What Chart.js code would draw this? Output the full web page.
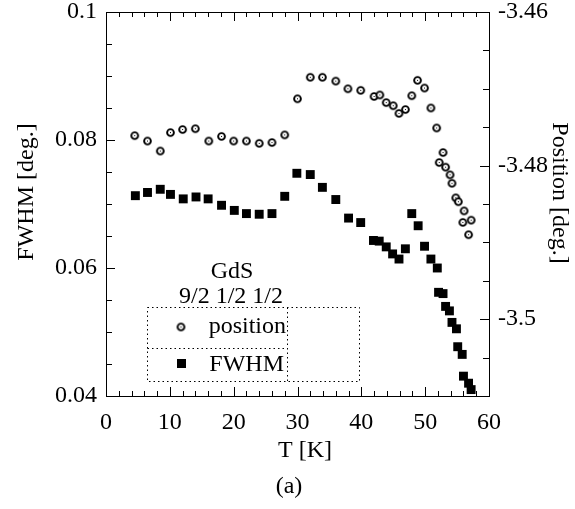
<!DOCTYPE html>
<html>
<head>
<meta charset="utf-8">
<script src="https://cdn.jsdelivr.net/npm/chart.js@4.4.1/dist/chart.umd.min.js"></script>
<style>
html, body { margin: 0; padding: 0; background: #fff; }
canvas { display: block; }
</style>
</head>
<body>
<canvas id="chart" width="575" height="509"></canvas>
<script>
// Peak position (right axis) vs temperature
const posT = [4.5, 6.5, 8.5, 10.1, 12.0, 14.0, 16.1, 18.1, 20.0, 22.0, 24.0, 26.0, 28.0,
  30.0, 32.0, 33.9, 36.0, 37.9, 39.9, 42.0, 42.9, 43.9, 45.0, 45.9, 46.9, 47.9, 48.8,
  49.9, 50.9, 51.8, 52.8, 52.2, 53.2, 53.9, 54.2, 54.8, 55.2, 56.1, 55.9, 57.2, 56.8];
const posVal = [-3.4761, -3.4768, -3.4781, -3.4757, -3.4753, -3.4752, -3.4768, -3.4762,
  -3.4768, -3.4768, -3.4771, -3.4770, -3.4760, -3.4713, -3.4685, -3.4685, -3.4690,
  -3.4700, -3.4702, -3.4710, -3.4708, -3.4718, -3.4722, -3.4732, -3.4727, -3.4709,
  -3.4689, -3.4699, -3.4725, -3.4751, -3.4783, -3.4796, -3.4802, -3.4812, -3.4823,
  -3.4842, -3.4847, -3.4859, -3.4874, -3.4871, -3.4890];

// Peak width (left axis) vs temperature
const fwhmT = [4.6, 6.5, 8.5, 10.1, 12.1, 14.1, 16.0, 18.1, 20.1, 22.0, 24.0, 26.0, 28.0,
  29.9, 32.0, 33.9, 36.0, 38.0, 39.9, 41.9, 42.8, 43.9, 44.9, 45.9, 46.9, 47.9, 48.9,
  49.9, 50.9, 51.9, 52.1, 52.8, 53.2, 53.8, 54.2, 54.9, 55.1, 55.8, 56.0, 56.8, 57.2];
const fwhmVal = [0.0713, 0.0718, 0.0723, 0.0715, 0.0708, 0.0711, 0.0708, 0.0698, 0.0690,
  0.0685, 0.0684, 0.0685, 0.0712, 0.0748, 0.0746, 0.0726, 0.0707, 0.0678, 0.0671,
  0.0643, 0.0642, 0.0633, 0.0622, 0.0614, 0.0630, 0.0685, 0.0666, 0.0634, 0.0614,
  0.0600, 0.0562, 0.0560, 0.0540, 0.0533, 0.0515, 0.0505, 0.0477, 0.0465, 0.0431,
  0.0420, 0.0410];

const tempTicks = [0, 10, 20, 30, 40, 50, 60];
const fwhmTicks = [0.04, 0.06, 0.08, 0.1];
const posTicks = [-3.5, -3.48, -3.46];

const FONT = '"Liberation Serif", "Times New Roman", serif';
Chart.defaults.font.family = FONT;
Chart.defaults.color = '#000';

// open circle with a dot in the middle
function ringMarker() {
  const c = document.createElement('canvas');
  c.width = 11; c.height = 11;
  const g = c.getContext('2d');
  g.beginPath();
  g.arc(5.5, 5.5, 3.4, 0, Math.PI * 2);
  g.fillStyle = '#fff';
  g.fill();
  g.lineWidth = 1.9;
  g.strokeStyle = '#000';
  g.stroke();
  g.fillStyle = '#000';
  g.fillRect(5, 5, 1, 1);
  return c;
}

function fixTicks(list) {
  return function(scale) {
    scale.ticks = list.map(v => ({ value: v }));
  };
}

function draw() {
  const ring = ringMarker();

  // box frame, inward ticks, titles and the key
  const decorations = {
    id: 'decorations',
    afterDraw(chart) {
      const ctx = chart.ctx;
      const { x, y, y2 } = chart.scales;
      const a = chart.chartArea;
      ctx.save();
      ctx.strokeStyle = '#000';
      ctx.lineWidth = 1;
      ctx.strokeRect(a.left + 0.5, a.top + 0.5, a.right - a.left, a.bottom - a.top);

      ctx.beginPath();
      for (let i = 0; i <= 30; i++) {
        const px = Math.round(x.getPixelForValue(i * 2)) + 0.5;
        const len = (i % 5 === 0) ? 9 : 5;
        ctx.moveTo(px, a.bottom); ctx.lineTo(px, a.bottom - len);
        ctx.moveTo(px, a.top); ctx.lineTo(px, a.top + len);
      }
      for (let i = 0; i <= 12; i++) {
        const py = Math.round(y.getPixelForValue(0.04 + i * 0.005)) + 0.5;
        const len = (i % 4 === 0) ? 9 : 6;
        ctx.moveTo(a.left, py); ctx.lineTo(a.left + len, py);
      }
      for (let i = 0; i <= 10; i++) {
        const py = Math.round(y2.getPixelForValue(-3.51 + i * 0.005)) + 0.5;
        const len = ((i - 2) % 4 === 0) ? 9 : 6;
        ctx.moveTo(a.right, py); ctx.lineTo(a.right - len, py);
      }
      ctx.stroke();

      ctx.fillStyle = '#000';
      ctx.font = '24px ' + FONT;
      ctx.textAlign = 'center';
      ctx.textBaseline = 'middle';
      ctx.fillText('T [K]', 305, 451);
      ctx.fillText('(a)', 289, 487);
      ctx.fillText('GdS', 232, 272);
      ctx.fillText('9/2 1/2 1/2', 231, 297);

      ctx.save();
      ctx.translate(27, 192);
      ctx.rotate(-Math.PI / 2);
      ctx.fillText('FWHM [deg.]', 0, 0);
      ctx.restore();
      ctx.save();
      ctx.translate(559, 193);
      ctx.rotate(Math.PI / 2);
      ctx.fillText('Position [deg.]', 0, 0);
      ctx.restore();

      // key
      ctx.setLineDash([1.5, 3]);
      ctx.beginPath();
      ctx.rect(147.5, 307.5, 212, 74);
      ctx.moveTo(287.5, 307.5); ctx.lineTo(287.5, 381.5);
      ctx.moveTo(147.5, 348.5); ctx.lineTo(287.5, 348.5);
      ctx.stroke();
      ctx.setLineDash([]);
      ctx.drawImage(ring, 181 - 5.5, 327 - 5.5);
      ctx.fillRect(177, 359, 9, 9);
      ctx.textAlign = 'right';
      ctx.textBaseline = 'alphabetic';
      ctx.fillText('position', 286, 333);
      ctx.fillText('FWHM', 284, 371);
      ctx.restore();
    }
  };

  new Chart(document.getElementById('chart'), {
    type: 'scatter',
    data: {
      datasets: [
        {
          label: 'position',
          data: posT.map((t, i) => ({ x: t, y: posVal[i] })),
          yAxisID: 'y2',
          pointStyle: ring,
          pointRadius: 5,
          pointHoverRadius: 5
        },
        {
          label: 'FWHM',
          data: fwhmT.map((t, i) => ({ x: t, y: fwhmVal[i] })),
          yAxisID: 'y',
          pointStyle: 'rect',
          pointRadius: 6.3,
          pointHoverRadius: 6.3,
          backgroundColor: '#000',
          borderWidth: 0
        }
      ]
    },
    options: {
      responsive: false,
      devicePixelRatio: 1,
      animation: false,
      layout: { padding: { top: 12, left: 0, right: 0, bottom: 0 } },
      plugins: { legend: { display: false }, tooltip: { enabled: false } },
      scales: {
        x: {
          type: 'linear', position: 'bottom', min: 0, max: 60,
          afterBuildTicks: fixTicks(tempTicks),
          afterFit(s) { s.height = 113; s.paddingLeft = 0; s.paddingRight = 0; },
          grid: { display: false, drawTicks: false },
          border: { display: false },
          ticks: { font: { size: 24 }, padding: 12, maxRotation: 0 }
        },
        y: {
          type: 'linear', position: 'left', min: 0.04, max: 0.1,
          afterBuildTicks: fixTicks(fwhmTicks),
          afterFit(s) { s.width = 106; s.paddingTop = 0; s.paddingBottom = 0; },
          grid: { display: false, drawTicks: false },
          border: { display: false },
          ticks: { font: { size: 24 }, padding: 9, callback: v => String(v) }
        },
        y2: {
          type: 'linear', position: 'right', min: -3.51, max: -3.46,
          afterBuildTicks: fixTicks(posTicks),
          afterFit(s) { s.width = 86; s.paddingTop = 0; s.paddingBottom = 0; },
          grid: { display: false, drawTicks: false },
          border: { display: false },
          ticks: { font: { size: 24 }, padding: 9, callback: v => String(v) }
        }
      }
    },
    plugins: [decorations]
  });
}

document.fonts.load('24px "Liberation Serif"').then(draw, draw);
</script>
</body>
</html>
